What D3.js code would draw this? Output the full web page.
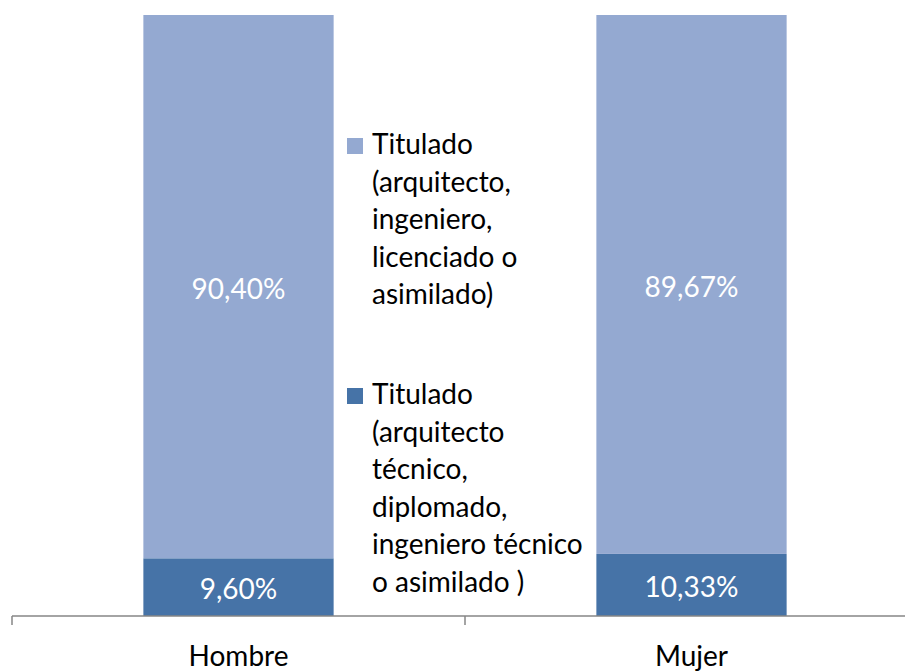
<!DOCTYPE html>
<html lang="es">
<head>
<meta charset="utf-8">
<title>Titulados por sexo</title>
<script src="https://d3js.org/d3.v7.min.js"></script>
<style>
  body { margin: 0; background: #fff; }
  svg { font-family: Lato, "Open Sans", sans-serif; }
  .axis line { stroke: #868686; stroke-width: 1.5; fill: none; }
  .axis text { font-size: 28px; fill: #000; }
</style>
</head>
<body>
<script>
// categories and series (percent of each column)
var categories = ["Hombre", "Mujer"];
var seriesNames = [
  "Titulado (arquitecto técnico, diplomado, ingeniero técnico o asimilado )",
  "Titulado (arquitecto, ingeniero, licenciado o asimilado)"
];
var seriesLines = [
  ["Titulado", "(arquitecto", "técnico,", "diplomado,", "ingeniero técnico", "o asimilado )"],
  ["Titulado", "(arquitecto,", "ingeniero,", "licenciado o", "asimilado)"]
];
var tecnico = [9.60, 10.33];
var superior = [90.40, 89.67];
var colors = ["#4673a7", "#94a9d1"];

var w = 905, h = 671;
var plotTop = 15, plotBottom = 616;

var rows = categories.map(function(c, i) {
  return { cat: c, s0: tecnico[i], s1: superior[i] };
});
var stack = d3.stack().keys(["s0", "s1"]);
var layers = stack(rows);

var x = d3.scaleBand()
  .domain(categories)
  .range([12, 918])
  .paddingInner(0.58)
  .paddingOuter(0.29);
var y = d3.scaleLinear().domain([0, 100]).range([plotBottom, plotTop]);

var svg = d3.select("body").append("svg")
  .attr("width", w)
  .attr("height", h);

var fmt = function(v) { return v.toFixed(2).replace(".", ",") + "%"; };

var layer = svg.selectAll("g.layer")
  .data(layers)
  .enter().append("g")
  .attr("class", "layer")
  .attr("fill", function(d, i) { return colors[i]; });

layer.selectAll("rect")
  .data(function(d) { return d; })
  .enter().append("rect")
  .attr("x", function(d) { return x(d.data.cat); })
  .attr("width", x.bandwidth())
  .attr("y", function(d) { return y(d[1]); })
  .attr("height", function(d) { return y(d[0]) - y(d[1]); });

layer.selectAll("text")
  .data(function(d) { return d; })
  .enter().append("text")
  .attr("x", function(d) { return x(d.data.cat) + x.bandwidth() / 2; })
  .attr("y", function(d) { return (y(d[0]) + y(d[1])) / 2 + 2; })
  .attr("dy", "0.36em")
  .attr("text-anchor", "middle")
  .attr("fill", "#fff")
  .style("font-size", "28px")
  .text(function(d) { return fmt(d[1] - d[0]); });

// category axis with ticks between categories
var axisG = svg.append("g")
  .attr("class", "axis")
  .attr("transform", "translate(0," + plotBottom + ")");
axisG.append("line")
  .attr("x1", 12).attr("x2", w)
  .attr("y1", 0).attr("y2", 0);
var step = x.step();
var bounds = [x(categories[0]) - x.paddingOuter() * step];
categories.forEach(function(c) { bounds.push(bounds[bounds.length - 1] + step); });
axisG.selectAll("line.tick")
  .data(bounds)
  .enter().append("line")
  .attr("class", "tick")
  .attr("x1", function(d) { return d; })
  .attr("x2", function(d) { return d; })
  .attr("y1", 0).attr("y2", 9);
axisG.selectAll("text")
  .data(categories)
  .enter().append("text")
  .attr("x", function(d) { return x(d) + x.bandwidth() / 2; })
  .attr("y", 50)
  .attr("text-anchor", "middle")
  .text(function(d) { return d; });

// legend (upper entry = upper series)
var legendTops = [388, 138];
var lineH = 37.5;
var leg = svg.selectAll("g.legend")
  .data(seriesLines)
  .enter().append("g")
  .attr("class", "legend")
  .attr("transform", function(d, i) { return "translate(347," + legendTops[i] + ")"; });
leg.append("rect")
  .attr("width", 16).attr("height", 16)
  .attr("fill", function(d, i) { return colors[i]; });
leg.append("text")
  .attr("x", 25)
  .attr("y", 16)
  .style("font-size", "28px")
  .selectAll("tspan")
  .data(function(d) { return d; })
  .enter().append("tspan")
  .attr("x", 25)
  .attr("dy", function(d, i) { return i === 0 ? 0 : lineH; })
  .text(function(d) { return d; });
</script>
</body>
</html>
